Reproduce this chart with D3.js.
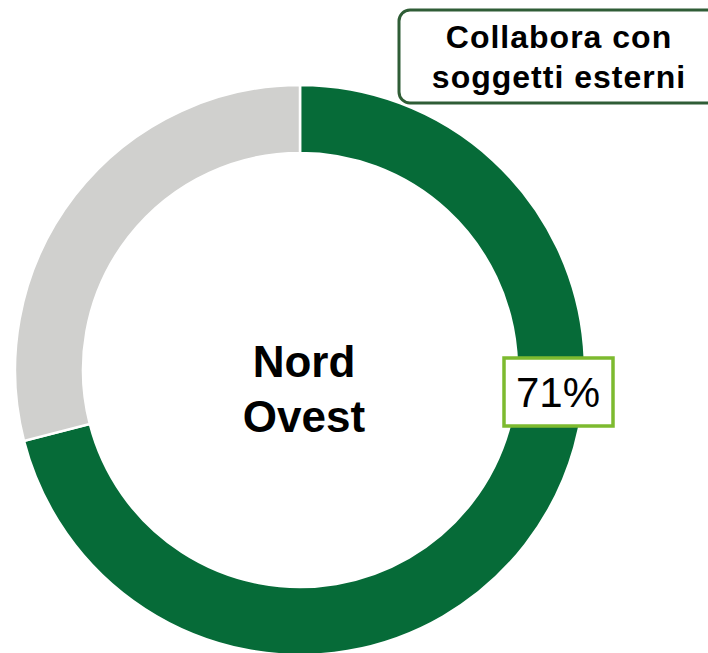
<!DOCTYPE html>
<html>
<head>
<meta charset="utf-8">
<script src="https://cdn.jsdelivr.net/npm/d3@7"></script>
<style>
  html, body { margin: 0; padding: 0; background: #fff; }
  svg { display: block; font-family: "Liberation Sans", Arial, sans-serif; }
</style>
</head>
<body>
<div id="chart"></div>
<script>
"use strict";

const categories = ["Collabora", "Non collabora"];
const values = [71, 29];
const colors = ["#066b38", "#d0d0ce"];
const title_lines = ["Collabora con", "soggetti esterni"];
const center_lines = ["Nord", "Ovest"];

const width = 708, height = 653;
const cx = 300, cy = 370;
const r_outer = 285, r_inner = 217;

const svg = d3.select("#chart").append("svg")
    .attr("width", width)
    .attr("height", height);

const pie = d3.pie().sort(null).value((d) => d.value);
const arc = d3.arc().innerRadius(r_inner).outerRadius(r_outer);

const data = categories.map((c, i) => ({name: c, value: values[i]}));
const arcs = pie(data);

const g = svg.append("g").attr("transform", "translate(" + cx + "," + cy + ")");

g.selectAll("path")
    .data(arcs)
    .join("path")
    .attr("d", arc)
    .attr("fill", (d, i) => colors[i])
    .attr("stroke", "#fff")
    .attr("stroke-width", 2.5);

// center label
g.selectAll("text.center")
    .data(center_lines)
    .join("text")
    .attr("class", "center")
    .attr("x", 4)
    .attr("y", (d, i) => 7 + i * 55)
    .attr("text-anchor", "middle")
    .style("font-size", "44px")
    .style("font-weight", "bold")
    .style("fill", "#000")
    .text((d) => d);

// percent label with box
const total = d3.sum(values);
const pct = Math.round(values[0] / total * 100) + "%";
const lab = svg.append("g").attr("transform", "translate(558,391)");
lab.append("rect")
    .attr("x", -54).attr("y", -33)
    .attr("width", 109).attr("height", 68)
    .attr("fill", "#fff")
    .attr("stroke", "#7dba2f")
    .attr("stroke-width", 3.5);
lab.append("text")
    .attr("x", 0).attr("y", 16)
    .attr("text-anchor", "middle")
    .style("font-size", "42px")
    .style("fill", "#000")
    .text(pct);

// title box
const tb = svg.append("g");
tb.append("rect")
    .attr("x", 399).attr("y", 10)
    .attr("width", 330).attr("height", 93)
    .attr("rx", 11).attr("ry", 11)
    .attr("fill", "#fff")
    .attr("stroke", "#2f5d36")
    .attr("stroke-width", 3);
tb.selectAll("text")
    .data(title_lines)
    .join("text")
    .attr("x", 559)
    .attr("y", (d, i) => 48 + i * 40)
    .attr("text-anchor", "middle")
    .style("font-size", "32px")
    .style("letter-spacing", "1px")
    .style("font-weight", "bold")
    .style("fill", "#000")
    .text((d) => d);
</script>
</body>
</html>
